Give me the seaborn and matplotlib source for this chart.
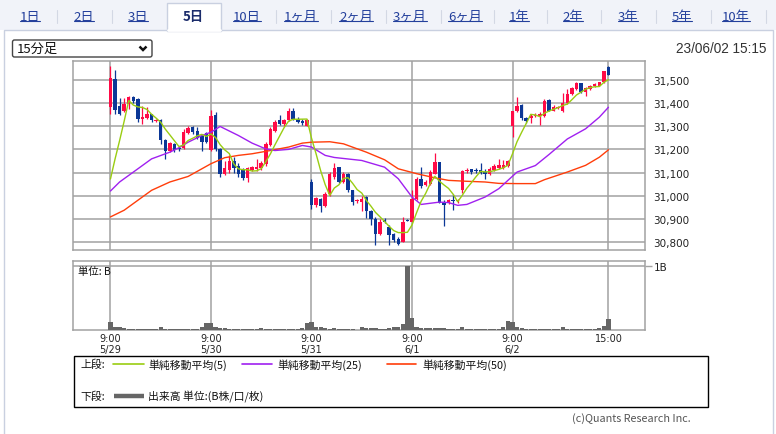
import numpy as np
import pandas as pd
import matplotlib
matplotlib.use("Agg")
import matplotlib.pyplot as plt
from matplotlib.patches import Rectangle, FancyBboxPatch
import seaborn as sns

# ---------------- data ----------------
days = ["5/29", "5/30", "5/31", "6/1", "6/2"]
session_times = ["9:00", "9:15", "9:30", "9:45", "10:00", "10:15", "10:30", "10:45",
                 "11:00", "11:15", "11:30",
                 "12:30", "12:45", "13:00", "13:15", "13:30", "13:45", "14:00",
                 "14:15", "14:30", "14:45", "15:00"]

open_ = [
    31383, 31505, 31388, 31366, 31395, 31425, 31418, 31333, 31335, 31352, 31322,
    31327, 31241, 31194, 31222, 31205, 31205, 31270, 31295, 31278, 31258, 31272,
    31197, 31350, 31200, 31095, 31110, 31150, 31130, 31110, 31075, 31110, 31115,
    31118, 31137, 31220, 31280, 31325, 31310, 31328, 31368, 31330, 31322, 31303,
    31059, 30958, 30987, 30954, 31008, 31080, 31123, 31060, 31095, 31023, 30975,
    30972, 30994, 30934, 30900, 30836, 30895, 30865, 30836, 30814, 30800, 30895,
    30886, 30987, 31073, 31044, 31052, 31095, 31145, 30968, 30968, 30983, 30976,
    31023, 31106, 31116, 31112, 31109, 31102, 31092, 31112, 31120, 31120, 31126,
    31300, 31364, 31393, 31334, 31334, 31343, 31346, 31346, 31414, 31368, 31380,
    31365, 31399, 31439, 31461, 31486, 31447, 31461, 31472, 31476, 31490, 31557,
]
high = [
    31560, 31545, 31424, 31420, 31430, 31430, 31420, 31388, 31385, 31355, 31330,
    31330, 31245, 31230, 31228, 31212, 31286, 31303, 31302, 31298, 31265, 31276,
    31370, 31362, 31205, 31150, 31175, 31165, 31140, 31120, 31125, 31130, 31160,
    31150, 31230, 31295, 31325, 31350, 31330, 31378, 31378, 31338, 31330, 31330,
    31073, 30995, 30990, 31016, 31102, 31140, 31125, 31102, 31100, 31025, 30985,
    30997, 30997, 30940, 30908, 30900, 30905, 30872, 30840, 30822, 30908, 30897,
    31023, 31080, 31123, 31066, 31109, 31185, 31145, 30980, 30985, 31008, 30985,
    31109, 31120, 31116, 31120, 31140, 31116, 31123, 31137, 31160, 31152, 31152,
    31367, 31425, 31396, 31340, 31353, 31356, 31360, 31418, 31418, 31390, 31388,
    31443, 31460, 31468, 31490, 31488, 31468, 31480, 31486, 31493, 31540, 31562,
]
low = [
    31352, 31352, 31350, 31360, 31373, 31402, 31320, 31308, 31330, 31318, 31318,
    31222, 31160, 31188, 31190, 31195, 31202, 31265, 31268, 31244, 31195, 31226,
    31195, 31195, 31080, 31088, 31100, 31100, 31080, 31068, 31060, 31105, 31108,
    31110, 31130, 31215, 31275, 31305, 31300, 31322, 31325, 31312, 31305, 31300,
    30944, 30950, 30929, 30950, 31000, 31070, 31055, 31055, 31015, 30958, 30970,
    30934, 30905, 30872, 30786, 30830, 30880, 30786, 30800, 30786, 30800, 30890,
    30886, 30980, 31035, 31040, 31045, 31092, 30968, 30868, 30965, 30937, 30970,
    31011, 31100, 31095, 31100, 31092, 31073, 31088, 31108, 31116, 31116, 31123,
    31254, 31360, 31327, 31315, 31313, 31340, 31307, 31340, 31364, 31365, 31375,
    31360, 31396, 31435, 31457, 31443, 31432, 31455, 31468, 31472, 31486, 31520,
]
close = [
    31507, 31370, 31355, 31395, 31428, 31410, 31330, 31342, 31352, 31325, 31326,
    31241, 31194, 31227, 31198, 31200, 31275, 31292, 31275, 31250, 31232, 31230,
    31345, 31200, 31095, 31120, 31150, 31120, 31095, 31075, 31120, 31122, 31125,
    31140, 31225, 31290, 31318, 31310, 31325, 31368, 31330, 31318, 31312, 31327,
    30958, 30991, 30954, 31008, 31092, 31120, 31060, 31092, 31023, 30972, 30983,
    30986, 30934, 30900, 30836, 30886, 30885, 30830, 30807, 30793, 30886, 30892,
    30987, 31073, 31040, 31058, 31102, 31145, 30968, 30958, 30983, 30977, 30982,
    31106, 31112, 31102, 31106, 31098, 31095, 31116, 31126, 31133, 31133, 31149,
    31364, 31389, 31334, 31324, 31346, 31350, 31353, 31411, 31368, 31385, 31385,
    31400, 31440, 31464, 31486, 31447, 31464, 31474, 31483, 31490, 31537, 31523,
]
# volume in B (billions of shares)
volume_b = [
    0.130, 0.052, 0.042, 0.036, 0.021, 0.021, 0.021, 0.021, 0.021, 0.021, 0.010,
    0.052, 0.021, 0.021, 0.021, 0.021, 0.021, 0.021, 0.021, 0.021, 0.052, 0.115,
    0.104, 0.052, 0.036, 0.026, 0.021, 0.021, 0.021, 0.021, 0.021, 0.021, 0.010,
    0.036, 0.021, 0.021, 0.021, 0.021, 0.021, 0.021, 0.021, 0.021, 0.036, 0.115,
    0.130, 0.052, 0.050, 0.036, 0.021, 0.036, 0.021, 0.021, 0.021, 0.021, 0.005,
    0.052, 0.036, 0.036, 0.036, 0.021, 0.021, 0.036, 0.042, 0.052, 0.088, 1.000,
    0.190, 0.042, 0.036, 0.031, 0.036, 0.036, 0.036, 0.026, 0.021, 0.021, 0.010,
    0.052, 0.021, 0.021, 0.021, 0.021, 0.021, 0.021, 0.021, 0.021, 0.052, 0.146,
    0.130, 0.052, 0.036, 0.021, 0.021, 0.021, 0.021, 0.021, 0.021, 0.021, 0.010,
    0.052, 0.021, 0.021, 0.021, 0.021, 0.021, 0.021, 0.021, 0.036, 0.068, 0.177,
]
# last four 15-minute closes of 5/26 (needed for the first 5-bar averages)
prior_closes = [30940, 30955, 30975, 30983]

# 25- and 50-period moving averages (bar number, value)
ma25_bar = [0, 2, 6, 9, 13, 15, 17, 20, 22, 24, 28, 31, 34, 36, 39, 42, 44, 47, 49,
            55, 60, 63, 66, 68, 72, 74, 76, 78, 82, 85, 89, 93, 96, 100, 104, 107, 109]
ma25_val = [31020, 31059, 31116, 31159, 31188, 31207, 31231, 31260, 31274, 31299,
            31260, 31227, 31202, 31195, 31200, 31217, 31210, 31174, 31165, 31152,
            31123, 31073, 30994, 30962, 30972, 30970, 30958, 30962, 30994, 31030,
            31102, 31130, 31178, 31245, 31289, 31339, 31382]
ma50_bar = [0, 3, 6, 9, 13, 17, 20, 22, 25, 28, 31, 35, 39, 42, 44, 48, 51, 56, 60,
            63, 67, 71, 74, 78, 82, 85, 89, 93, 95, 100, 104, 107, 109]
ma50_val = [30908, 30937, 30980, 31023, 31059, 31083, 31116, 31138, 31164, 31174,
            31181, 31195, 31210, 31227, 31231, 31233, 31224, 31188, 31155, 31116,
            31095, 31077, 31066, 31062, 31059, 31053, 31052, 31052, 31069, 31102,
            31131, 31166, 31198]

price_ticks = [30800, 30900, 31000, 31100, 31200, 31300, 31400, 31500]
volume_ticks = [1.0]
volume_tick_labels = ["1B"]

tab_labels = ["1日", "2日", "3日", "5日", "10日", "1ヶ月", "2ヶ月", "3ヶ月", "6ヶ月",
              "1年", "2年", "3年", "5年", "10年"]
selected_tab = "5日"
legend_labels = ["単純移動平均(5)", "単純移動平均(25)", "単純移動平均(50)"]
volume_legend = "出来高 単位:(B株/口/枚)"

# ---------------- table ----------------
n = len(close)
df = pd.DataFrame({
    "bar": np.arange(n),
    "day": np.repeat(days, len(session_times)),
    "time": session_times * len(days),
    "open": open_, "high": high, "low": low, "close": close,
    "volume": volume_b,
})
df["ma5"] = pd.Series(prior_closes + close).rolling(5).mean().iloc[len(prior_closes):].to_numpy()
df["up"] = df["close"] >= df["open"]

tick_bars = list(df.loc[df["time"] == "9:00", "bar"]) + [int(df["bar"].iloc[-1])]
tick_text = [f"9:00\n{d}" for d in df.loc[df["time"] == "9:00", "day"]] + [df["time"].iloc[-1]]

# ---------------- styling ----------------
sns.set_theme(style="white")
plt.rcParams["font.family"] = ["DejaVu Sans", "Noto Sans CJK JP"]
JP = ["Noto Sans CJK JP", "DejaVu Sans"]

RED = "#ff0a46"
BLUE = "#0b3796"
GRID = "#a2a2a2"
C5, C25, C50 = "#9acd12", "#a020f0", "#ff3d0a"

W, H = 776, 435
fig = plt.figure(figsize=(W / 100, H / 100), dpi=100)
fig.patch.set_facecolor("white")

# page decoration layer in pixel coordinates
bg = fig.add_axes([0, 0, 1, 1], zorder=-5)
bg.set_xlim(0, W)
bg.set_ylim(H, 0)
bg.axis("off")
bg.add_patch(Rectangle((0, 0), W, 31, facecolor="#f1f3f9", edgecolor="none"))
bg.add_patch(Rectangle((4, 31), 769, 410, facecolor="white", edgecolor="#c9d0e0", lw=1))
bg.add_patch(Rectangle((167, 3.5), 54, 28, facecolor="white", edgecolor="#c9d0e0", lw=1))
bg.plot([167.6, 220.4], [31, 31], color="white", lw=2)
tab_x = [30, 84, 138, 193, 247, 301, 356, 410, 465, 519, 573, 628, 682, 736]
sep_x = [57, 112, 276, 331, 386, 441, 494, 547, 601, 656, 711, 766]
for sx in sep_x:
    bg.plot([sx, sx], [11, 24], color="#d3d8e4", lw=0.8)
tab_texts = []
for tx, lab in zip(tab_x, tab_labels):
    if lab == selected_tab:
        bg.text(tx, 17, lab, ha="center", va="center", fontsize=9.5, family=JP,
                color="#1b2c6b", fontweight="bold")
    else:
        t = bg.text(tx, 17, lab, ha="center", va="center", fontsize=9.5, family=JP,
                    color="#24409c")
        tab_texts.append(t)

# dropdown and timestamp
bg.add_patch(FancyBboxPatch((12.5, 41), 139.5, 17, boxstyle="round,pad=0,rounding_size=2",
                            facecolor="white", edgecolor="#444444", lw=1))
bg.text(17, 49.5, "15分足", ha="left", va="center", fontsize=9.5, family=JP, color="#111111")
bg.plot([139.5, 143, 146.5], [47.5, 51, 47.5], color="#111111", lw=1.8,
        solid_capstyle="butt", solid_joinstyle="miter")
bg.text(767, 49, "23/06/02 15:15", ha="right", va="center", fontsize=9.8,
        family=["Liberation Sans", "DejaVu Sans"], color="#333333")

# ---------------- price panel ----------------
ax = fig.add_axes([73 / W, 1 - 251 / H, 572 / W, 189 / H])
ax.set_facecolor("white")
up = df[df["up"]]
dn = df[~df["up"]]
for part, col in ((up, RED), (dn, BLUE)):
    ax.vlines(part["bar"], part["low"], part["high"], colors=col, lw=0.9, zorder=3)
    body = np.maximum((part["close"] - part["open"]).abs(), 4)
    ax.bar(part["bar"], body, bottom=np.minimum(part["open"], part["close"]),
           width=0.76, color=col, linewidth=0, zorder=4)

sns.lineplot(x=ma50_bar, y=ma50_val, ax=ax, color=C50, lw=1.0, zorder=5)
sns.lineplot(x=ma25_bar, y=ma25_val, ax=ax, color=C25, lw=1.0, zorder=6)
sns.lineplot(data=df, x="bar", y="ma5", ax=ax, color=C5, lw=1.0, zorder=7, estimator=None)

ax.set_xlim(-8.2, 117.0)
ax.set_ylim(30765, 31582)
ax.set_yticks(price_ticks)
ax.set_yticklabels([f"{p:,}" for p in price_ticks])
ax.set_xticks(tick_bars)
ax.set_xticklabels([])
ax.yaxis.tick_right()
ax.tick_params(axis="both", length=0, labelsize=7.5, labelcolor="#222222", pad=6)
ax.grid(True, color=GRID, lw=1.1)
ax.set_axisbelow(True)
ax.set_xlabel("")
ax.set_ylabel("")
for s in ax.spines.values():
    s.set_color(GRID)
    s.set_linewidth(1.1)

# ---------------- volume panel ----------------
axv = fig.add_axes([73 / W, 1 - 331 / H, 572 / W, 69 / H])
axv.set_facecolor("white")
sns.barplot(data=df, x="bar", y="volume", native_scale=True, color="#666666",
            saturation=1, width=0.92, errorbar=None, ax=axv, zorder=3, linewidth=0)
axv.set_xlim(-8.2, 117.0)
axv.set_ylim(0, 1.083)
axv.set_yticks(volume_ticks)
axv.set_yticklabels(volume_tick_labels)
axv.yaxis.tick_right()
axv.tick_params(axis="y", length=5, width=1, color=GRID, labelsize=7.5,
                labelcolor="#222222", pad=1.5)
axv.set_xticks(tick_bars)
axv.set_xticklabels(tick_text, linespacing=1.2)
axv.tick_params(axis="x", length=0, labelsize=7, labelcolor="#222222", pad=2)
axv.grid(True, color=GRID, lw=1.1)
axv.set_axisbelow(True)
axv.set_xlabel("")
axv.set_ylabel("")
for s in axv.spines.values():
    s.set_color(GRID)
    s.set_linewidth(1.1)
axv.text(0.009, 0.93, "単位: B", transform=axv.transAxes, ha="left", va="top",
         fontsize=7.5, family=JP, color="#111111", zorder=6)

# ---------------- legend box ----------------
bg2 = fig.add_axes([0, 0, 1, 1], zorder=10)
bg2.set_xlim(0, W)
bg2.set_ylim(H, 0)
bg2.axis("off")
bg2.add_patch(Rectangle((73.5, 356.5), 634, 51, facecolor="none", edgecolor="black", lw=1))
bg2.text(80, 365, "上段:", ha="left", va="center", fontsize=7.8, family=JP, color="#111111")
for (x0, x1, tx), col, lab in zip([(113, 144, 148), (242, 272, 277), (387, 416, 422)],
                                  [C5, C25, C50], legend_labels):
    bg2.plot([x0, x1], [365, 365], color=col, lw=1.2)
    bg2.text(tx, 365, lab, ha="left", va="center", fontsize=7.8, family=JP, color="#111111")
bg2.text(80, 397, "下段:", ha="left", va="center", fontsize=7.8, family=JP, color="#111111")
bg2.plot([114, 144], [397, 397], color="#666666", lw=3.2, solid_capstyle="butt")
bg2.text(148, 397, volume_legend, ha="left", va="center", fontsize=7.8, family=JP,
         color="#111111")
bg2.text(691, 419, "(c)Quants Research Inc.", ha="right", va="center", fontsize=7.8,
         family=JP, color="#555555")

# underline for tab links
fig.canvas.draw()
r = fig.canvas.get_renderer()
for t in tab_texts:
    bb = t.get_window_extent(renderer=r)
    x0, x1 = bb.x0, bb.x1
    yb = H - bb.y0 - 2
    bg.plot([x0, x1], [yb, yb], color="#24409c", lw=0.8)

fig.savefig("out.png", dpi=100, facecolor="white")
